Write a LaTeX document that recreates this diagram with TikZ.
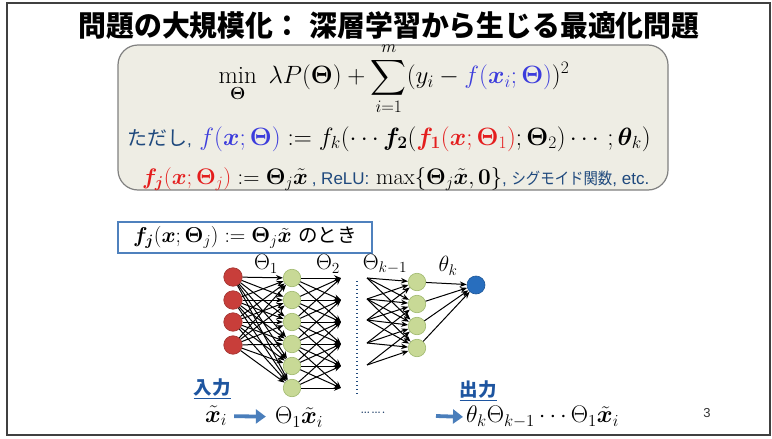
\RequirePackage{fix-cm}
\documentclass[tikz,border=0pt]{standalone}
\usepackage{amsmath,bm}
\usepackage{fontspec}
\usepackage{graphicx}
\newfontfamily\jp{Noto Sans CJK JP}
\newfontfamily\arial{Liberation Sans}
\usetikzlibrary{arrows.meta}
\definecolor{navy}{RGB}{31,73,125}
\definecolor{fblue}{RGB}{60,60,220}
\definecolor{fred}{RGB}{228,30,30}
\definecolor{boxfill}{RGB}{238,237,228}
\definecolor{boxline}{RGB}{128,128,128}
\definecolor{condblue}{RGB}{79,129,189}
\definecolor{rfill}{RGB}{200,62,58}
\definecolor{gfill}{RGB}{200,217,150}
\definecolor{gline}{RGB}{160,185,110}
\definecolor{bfill}{RGB}{40,110,190}
\definecolor{arrblue}{RGB}{74,126,187}
\definecolor{labblue}{RGB}{30,85,160}
\tikzset{
  rnode/.style={circle,fill=rfill,draw=rfill!80!black,line width=0.6,minimum size=18.5,inner sep=0},
  gnode/.style={circle,fill=gfill,draw=gline,line width=0.6,minimum size=17.5,inner sep=0},
  bnode/.style={circle,fill=bfill,draw=bfill!80!black,line width=0.6,minimum size=18,inner sep=0},
  arr/.style={-{Stealth[length=7,width=5.5]},line width=1.0,black},
  barr/.style={-{Triangle[length=10,width=14]},line width=3.8,arrblue},
  lab/.style={inner sep=0,font=\fontsize{22}{24}\selectfont},
  blab/.style={inner sep=0,font=\fontsize{24}{26}\selectfont},
}
\newcommand{\bx}{\bm{x}}
\newcommand{\bT}{\bm{\Theta}}
\begin{document}
\begin{tikzpicture}[x=1pt,y=-1pt]
\useasboundingbox (0,0) rectangle (772,439);
\draw[black!75,line width=1.2] (7,3) rectangle (770,435);
% title
\node[inner sep=0] (title) at (389,26) {\scalebox{0.96}[1]{\jp\bfseries\fontsize{29}{32}\selectfont 問題の大規模化：\hspace{0.3em}深層学習から生じる最適化問題}};
% formula box
\draw[fill=boxfill,draw=boxline,line width=1.2,rounded corners=20] (118,45) rectangle (668,190);
\node[inner sep=0] (l1) at (394,79) {\fontsize{25}{28}\selectfont $\displaystyle \min_{\bT}\ \lambda P(\bT)+\sum_{i=1}^{m}(y_i-{\color{fblue}f(\bx_i;\bT)})^2$};
\node[inner sep=0,anchor=base west] (l2) at (127,145) {\fontsize{25}{28}\selectfont{\jp\color{navy}\fontsize{20}{22}\selectfont ただし}{\arial\color{navy}\fontsize{17}{19}\selectfont,} ${\color{fblue}f(\bx;\bT)}:=f_k(\cdots\bm{f_2}({\color{fred}\bm{f_1}(\bx;\bT_1)};\bT_2)\cdots;\bm{\theta}_k)$};
\node[inner sep=0,anchor=base west] (l3) at (142,184) {\fontsize{22.5}{26}\selectfont${\color{fred}\bm{f_j}(\bx;\bT_j)}:=\bT_j\tilde{\bx}$\,{\arial\color{navy}\fontsize{17}{19}\selectfont, ReLU:} $\max\{\bT_j\tilde{\bx},\bm{0}\}${\color{navy}\arial\fontsize{17}{19}\selectfont, \scalebox{0.9}[1]{\jp\fontsize{16}{18}\selectfont シグモイド関数}, etc.}};
% condition box
\node[draw=condblue,line width=1.5,fill=white,minimum width=254,minimum height=31,inner sep=0] (cond) at (245,237.5) {\fontsize{21.5}{24}\selectfont$\bm{f_j}(\bx;\bT_j):=\bT_j\tilde{\bx}$\ {\jp\fontsize{19.5}{22}\selectfont のとき}};
% network
\foreach \i/\y in {1/277,2/300,3/322,4/345} \node[rnode] (r\i) at (233,\y) {};
\foreach \i/\y in {1/278,2/300,3/322,4/344,5/366,6/388} \node[gnode] (a\i) at (292,\y) {};
\foreach \i/\y in {1/278,2/300,3/322,4/344,5/366,6/388} \coordinate (b\i) at (341,\y);
\foreach \i/\y in {1/278,2/299,3/320,4/343,5/365} \coordinate (c\i) at (367,\y);
\foreach \i/\y in {1/282,2/304,3/326,4/348} \node[gnode] (d\i) at (417,\y) {};
\node[bnode] (e) at (476,285) {};
\foreach \i in {1,...,4} \foreach \j in {1,...,6} \draw[arr] (r\i) -- (a\j);
\foreach \i in {1,...,6} \foreach \j in {1,...,6} {
  \pgfmathtruncatemacro\dd{abs(\i-\j)}
  \ifnum\dd<3 \draw[arr] (a\i) -- (b\j); \fi
}
\foreach \i in {1,...,5} \foreach \j in {1,...,4} {
  \pgfmathtruncatemacro\dd{abs(\i-\j)}
  \ifnum\dd<3 \draw[arr] (c\i) -- (d\j); \fi
}
\foreach \i in {1,...,4} \draw[arr] (d\i) -- (e);
\coordinate (dt) at (357,281);
\coordinate (db) at (357,394);
\draw[navy,line width=1.4,dash pattern=on 1.4 off 2.6] (dt) -- (db);
\node[lab] (t1) at (266,264) {$\Theta_1$};
\node[lab] (t2) at (328,264) {$\Theta_2$};
\node[lab] (t3) at (385,264) {$\Theta_{k-1}$};
\node[lab] (t4) at (448,266) {$\theta_k$};
% bottom
\node[inner sep=0,text=labblue,font=\jp\bfseries\fontsize{18.5}{20}\selectfont] (in) at (212,389) {\underline{入力}};
\node[inner sep=0,text=labblue,font=\jp\bfseries\fontsize{18.5}{20}\selectfont] (outl) at (478,391) {\underline{出力}};
\node[blab] (xi) at (216,416) {$\tilde{\bx}_i$};
\node[blab] (th1) at (299,417) {$\Theta_1\tilde{\bx}_i$};
\node[inner sep=0,text=navy!80!black,font=\fontsize{18}{20}\selectfont] (dots) at (373,413) {\ldots\ldots.};
\node[blab,anchor=west] (out) at (466,417) {$\theta_k\Theta_{k-1}\cdots\Theta_1\tilde{\bx}_i$};
\coordinate (o0) at (436,416);
\draw[barr,shorten <=7,shorten >=9] (xi) -- (th1);
\draw[barr,shorten >=3] (o0) -- (out.west);
\node[inner sep=0,text=black!80,font=\arial\fontsize{13}{14}\selectfont] (pg) at (707,413) {3};
\end{tikzpicture}
\end{document}
